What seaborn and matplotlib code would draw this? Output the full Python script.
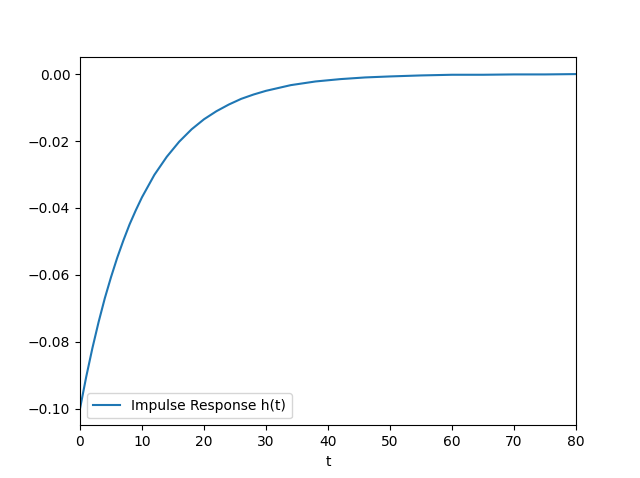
import matplotlib
matplotlib.use("Agg")
import matplotlib.pyplot as plt
import seaborn as sns
import pandas as pd

# values
t = [0, 1, 2, 3, 4, 5, 6, 7, 8, 9, 10, 12, 14, 16, 18, 20, 22, 24, 26, 28, 30,
     34, 38, 42, 46, 50, 55, 60, 65, 70, 75, 80]
h = [-0.1000, -0.0905, -0.0819, -0.0741, -0.0670, -0.0607, -0.0549, -0.0497,
     -0.0449, -0.0407, -0.0368, -0.0301, -0.0247, -0.0202, -0.0165, -0.0135,
     -0.0111, -0.0091, -0.0074, -0.0061, -0.0050, -0.0033, -0.0022, -0.0015,
     -0.0010, -0.0007, -0.0004, -0.0002, -0.0002, -0.0001, -0.0001, 0.0000]

df = pd.DataFrame({"t": t, "h": h})

fig, ax = plt.subplots(figsize=(6.4, 4.78), dpi=100)
sns.lineplot(data=df, x="t", y="h", ax=ax, label="Impulse Response h(t)", color="#1f77b4")
ax.set_xlim(0, 80)
ax.set_xlabel("t")
ax.set_ylabel("")
ax.legend(loc="lower left")
fig.savefig("out.png", dpi=100)
